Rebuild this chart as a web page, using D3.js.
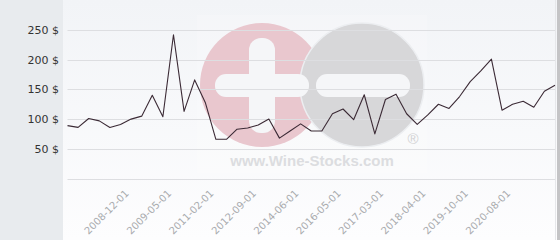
<!DOCTYPE html>
<html>
<head>
<meta charset="utf-8">
<script src="https://cdn.jsdelivr.net/npm/d3@7"></script>
<style>
	body { margin: 0; background: #fff; }
	svg { display: block; }
</style>
</head>
<body>
<div id="vis"></div>
<script>
// prices, one per point
const prices = [89, 86, 101, 97, 86, 91, 100, 105, 140, 104,
	242, 113, 166, 128, 66, 66, 83, 85, 90, 100,
	68, 80, 92, 80, 80, 109, 117, 99, 141, 75,
	133, 142, 109, 91, 107, 125, 118, 138, 163, 181,
	201, 115, 125, 130, 120, 147, 157]

// only the labels that are shown on the axis
const tickIndex = [6, 10, 14, 18, 22, 26, 30, 34, 38, 42]
const tickLabels = ['2008-12-01', '2009-05-01', '2011-02-01', '2012-09-01', '2014-06-01',
	'2016-05-01', '2017-03-01', '2018-04-01', '2019-10-01', '2020-08-01']
const yTicks = [50, 100, 150, 200, 250]

const W = 560, H = 240
const panelLeft = 63
const plot = {left: 67.5, right: 555, top: 30, bottom: 178.5}

let svg = d3.select('#vis').append('svg')
	.attr('width', W)
	.attr('height', H)

let defs = svg.append('defs')
let grad = defs.append('linearGradient')
	.attr('id', 'bg')
	.attr('x1', 0).attr('y1', 0).attr('x2', 0).attr('y2', 1)
grad.append('stop').attr('offset', '0%').attr('stop-color', '#f2f4f7')
grad.append('stop').attr('offset', '100%').attr('stop-color', '#fdfdfe')

// side bar + panel
svg.append('rect')
	.attr('width', W).attr('height', H)
	.attr('fill', '#e8ebee')
svg.append('rect')
	.attr('x', panelLeft).attr('y', 0)
	.attr('width', W - panelLeft).attr('height', H)
	.attr('fill', 'url(#bg)')
svg.append('line')
	.attr('x1', 555.5).attr('x2', 555.5).attr('y1', 0).attr('y2', H)
	.attr('stroke', '#e6e7ea')
svg.append('rect')
	.attr('x', 557).attr('y', 0)
	.attr('width', 3).attr('height', H)
	.attr('fill', '#c4c4c6')

// watermark logo
let wm = svg.append('g').attr('class', 'watermark')
wm.append('rect')
	.attr('x', 197).attr('y', 15)
	.attr('width', 230).attr('height', 158)
	.attr('fill', '#fff').attr('opacity', 0.18)
wm.append('circle')
	.attr('cx', 262).attr('cy', 85).attr('r', 62)
	.attr('fill', '#e9c7ce')
wm.append('circle')
	.attr('cx', 362).attr('cy', 85).attr('r', 62)
	.attr('fill', '#d7d7d9')
	.attr('stroke', '#eceef1').attr('stroke-width', 1.5)
wm.append('rect')
	.attr('x', 249).attr('y', 38)
	.attr('width', 26).attr('height', 95)
	.attr('rx', 12)
	.attr('fill', '#f5f6f8')
wm.append('rect')
	.attr('x', 215).attr('y', 74)
	.attr('width', 94).attr('height', 23)
	.attr('rx', 11)
	.attr('fill', '#f5f6f8')
wm.append('rect')
	.attr('x', 316).attr('y', 74)
	.attr('width', 94).attr('height', 23)
	.attr('rx', 11)
	.attr('fill', '#f5f6f8')
wm.append('text')
	.attr('x', 413).attr('y', 144)
	.attr('text-anchor', 'middle')
	.attr('font-family', 'Liberation Sans, Arial, sans-serif')
	.attr('font-size', '15px')
	.attr('fill', '#d2d2d4')
	.text('®')
wm.append('text')
	.attr('x', 312).attr('y', 165.5)
	.attr('text-anchor', 'middle')
	.attr('font-family', 'Liberation Sans, Arial, sans-serif')
	.attr('font-size', '15px')
	.attr('font-weight', 700)
	.attr('fill', '#dcdde0')
	.text('www.Wine-Stocks.com')

// scales
let xScale = d3.scalePoint(d3.range(prices.length), [plot.left, plot.right])
let yScale = d3.scaleLinear([0, 250], [plot.bottom, plot.top])

// grid lines
svg.append('g')
	.selectAll('line')
	.data([0].concat(yTicks)).enter()
	.append('line')
	.attr('x1', plot.left).attr('x2', plot.right)
	.attr('y1', d => Math.round(yScale(d)) + 0.5)
	.attr('y2', d => Math.round(yScale(d)) + 0.5)
	.attr('stroke', '#dddee1')
	.attr('stroke-width', 1)

// y axis labels
let yAxis = d3.axisLeft(yScale)
	.tickValues(yTicks)
	.tickSize(0)
	.tickPadding(0)
	.tickFormat(d => d + ' $')
let gy = svg.append('g')
	.attr('transform', 'translate(59,0)')
	.call(yAxis)
gy.select('.domain').remove()
gy.selectAll('text')
	.attr('font-family', 'DejaVu Sans, sans-serif')
	.attr('font-size', '11px')
	.attr('fill', '#333')

// x axis labels, rotated
let xAxis = d3.axisBottom(xScale)
	.tickValues(tickIndex)
	.tickSize(0)
	.tickFormat(d => tickLabels[tickIndex.indexOf(d)])
let gx = svg.append('g')
	.attr('transform', 'translate(0,194)')
	.call(xAxis)
gx.select('.domain').remove()
gx.selectAll('text')
	.attr('font-family', 'DejaVu Sans, sans-serif')
	.attr('font-size', '10px')
	.attr('fill', '#a9abae')
	.attr('text-anchor', 'end')
	.attr('dy', null)
	.attr('y', 0)
	.attr('transform', 'translate(-2,0) rotate(-45)')

// price line
let line = d3.line()
	.x((d, i) => xScale(i))
	.y(d => yScale(d))

svg.append('path')
	.datum(prices)
	.attr('d', line)
	.attr('fill', 'none')
	.attr('stroke', '#3b2a35')
	.attr('stroke-width', 1.1)
	.attr('stroke-linejoin', 'round')
</script>
</body>
</html>
